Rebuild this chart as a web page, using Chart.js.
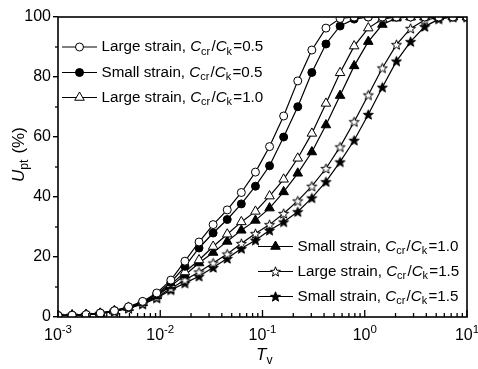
<!DOCTYPE html>
<html>
<head>
<meta charset="utf-8">
<script src="https://cdn.jsdelivr.net/npm/chart.js@4/dist/chart.umd.min.js"></script>
<style>
  html, body { margin: 0; padding: 0; background: #fff; }
  #wrap { width: 478px; height: 369px; }
</style>
</head>
<body>
<div id="wrap"><canvas id="cv"></canvas></div>
<script>
// time factor Tv (log spaced points)
const tv = [0.001, 0.001374, 0.001887, 0.002593, 0.003562, 0.004894, 0.006723, 0.009237,
  0.01269, 0.01743, 0.02395, 0.0329, 0.0452, 0.0621, 0.0853, 0.1172, 0.161, 0.2212,
  0.3039, 0.4175, 0.5736, 0.788, 1.083, 1.487, 2.043, 2.807, 3.857, 5.298, 7.279, 10];

// Upt (%)
const large05 = [0.5, 0.6, 0.8, 1.3, 2.1, 3.4, 5.2, 8.0, 12.3, 18.6, 25.0, 30.8, 35.7, 41.5, 48.3,
  56.8, 67.0, 78.7, 89.0, 96.3, 99.5, 100, 100, 100, 100, 100, 100, 100, 100, 100];
const small05 = [0.5, 0.6, 0.8, 1.3, 2.1, 3.3, 5.0, 7.6, 11.5, 16.9, 23.0, 28.0, 32.5, 37.7, 43.6,
  50.4, 60.0, 70.1, 81.5, 91.0, 97.0, 99.3, 100, 100, 100, 100, 100, 100, 100, 100];
const large10 = [0.5, 0.6, 0.8, 1.2, 2.0, 3.2, 4.8, 7.3, 10.8, 15.0, 19.0, 23.5, 27.6, 31.7, 35.2,
  40.3, 45.9, 52.9, 61.2, 71.2, 81.4, 90.3, 96.3, 99.3, 100, 100, 100, 100, 100, 100];
const small10 = [0.5, 0.6, 0.8, 1.2, 2.0, 3.1, 4.7, 7.0, 10.3, 14.0, 18.0, 21.5, 25.2, 28.9, 32.2,
  36.3, 41.7, 47.9, 55.0, 64.0, 73.8, 83.7, 91.8, 97.5, 99.6, 100, 100, 100, 100, 100];
const large15 = [0.5, 0.6, 0.8, 1.2, 1.9, 3.0, 4.5, 6.6, 9.5, 12.3, 15.0, 18.0, 21.0, 24.5, 27.8,
  30.8, 34.5, 38.7, 43.6, 49.5, 56.7, 65.1, 74.0, 83.0, 90.8, 96.2, 99.0, 99.8, 100, 100];
const small15 = [0.5, 0.6, 0.8, 1.2, 1.9, 2.9, 4.3, 6.3, 9.0, 11.3, 13.6, 16.5, 19.5, 22.8, 25.6,
  28.9, 31.7, 35.1, 39.7, 45.1, 51.7, 58.9, 67.5, 76.6, 85.3, 91.8, 96.8, 99.3, 100, 100];

const strains = ["Large", "Small", "Large", "Small", "Large", "Small"];
const ratios = ["0.5", "0.5", "1.0", "1.0", "1.5", "1.5"];
const yTicks = [0, 20, 40, 60, 80, 100];
const xDecades = [-3, -2, -1, 0, 1];

const FONT = '"Liberation Sans", Arial, sans-serif';

function starImg(filled) {
  const c = document.createElement("canvas");
  c.width = 13; c.height = 13;
  const g = c.getContext("2d");
  g.beginPath();
  for (let i = 0; i < 10; i++) {
    const r = i % 2 ? 2.2 : 5.2;
    const a = -Math.PI / 2 + i * Math.PI / 5;
    g.lineTo(6.5 + r * Math.cos(a), 7 + r * Math.sin(a));
  }
  g.closePath();
  g.fillStyle = filled ? "#000" : "#fff";
  g.fill();
  g.lineWidth = 1;
  g.strokeStyle = "#000";
  g.stroke();
  return c;
}

const series = [large05, small05, large10, small10, large15, small15];
const styles = [
  { pointStyle: "circle", fill: "#fff", radius: 4 },
  { pointStyle: "circle", fill: "#000", radius: 4 },
  { pointStyle: "triangle", fill: "#fff", radius: 5.5 },
  { pointStyle: "triangle", fill: "#000", radius: 5.5 },
  { pointStyle: starImg(false), fill: "#fff", radius: 5 },
  { pointStyle: starImg(true), fill: "#000", radius: 5 }
];

// draws text made of plain / italic / sub / sup parts, returns end x
function drawRich(ctx, parts, x, y, size) {
  ctx.textBaseline = "middle";
  ctx.textAlign = "left";
  for (const p of parts) {
    const small = p.sub || p.sup;
    const fs = small ? size * 0.72 : size;
    ctx.font = (p.it ? "italic " : "") + fs + "px " + FONT;
    const dy = p.sub ? size * 0.32 : (p.sup ? -size * 0.38 : 0);
    ctx.fillText(p.t, x, y + dy);
    x += ctx.measureText(p.t).width + (p.sub ? 1.2 : 0);
  }
  return x;
}

function labelParts(i) {
  return [
    { t: strains[i] + " strain, " },
    { t: "C", it: true }, { t: "cr", sub: true },
    { t: "/" },
    { t: "C", it: true }, { t: "k", sub: true },
    { t: "=" + ratios[i] }
  ];
}

function drawMarker(ctx, i, x, y) {
  const s = styles[i];
  if (typeof s.pointStyle !== "string") {
    ctx.drawImage(s.pointStyle, x - s.pointStyle.width / 2, y - s.pointStyle.height / 2);
    return;
  }
  ctx.fillStyle = s.fill;
  ctx.strokeStyle = "#000";
  ctx.lineWidth = 1;
  Chart.helpers.drawPoint(ctx, { pointStyle: s.pointStyle, radius: s.radius, rotation: 0, borderWidth: 1 }, x, y);
}

const decor = {
  id: "decor",
  afterDraw(chart) {
    const ctx = chart.ctx;
    const a = chart.chartArea;
    const xs = chart.scales.x, ys = chart.scales.y;
    ctx.save();
    ctx.strokeStyle = "#000";
    ctx.fillStyle = "#000";

    // frame
    ctx.lineWidth = 1.6;
    ctx.strokeRect(a.left, a.top, a.right - a.left, a.bottom - a.top);

    // x ticks (inward) and labels
    ctx.lineWidth = 1.3;
    for (const d of xDecades) {
      for (let m = 1; m <= 9; m++) {
        if (d === 1 && m > 1) break;
        const px = xs.getPixelForValue(m * Math.pow(10, d));
        const len = m === 1 ? 7 : 4;
        ctx.beginPath();
        ctx.moveTo(px, a.bottom);
        ctx.lineTo(px, a.bottom - len);
        ctx.stroke();
      }
      const px = xs.getPixelForValue(Math.pow(10, d));
      ctx.font = "16px " + FONT;
      const w10 = ctx.measureText("10").width;
      ctx.font = (16 * 0.72) + "px " + FONT;
      const we = ctx.measureText(String(d)).width;
      const x0 = px - (w10 + we) / 2;
      drawRich(ctx, [{ t: "10" }, { t: String(d), sup: true }], x0, 336, 16);
    }

    // y minor ticks (outward)
    for (let v = 10; v < 100; v += 20) {
      const py = ys.getPixelForValue(v);
      ctx.beginPath();
      ctx.moveTo(a.left, py);
      ctx.lineTo(a.left - 3, py);
      ctx.stroke();
    }

    // axis titles
    drawRich(ctx, [{ t: "T", it: true }, { t: "v", sub: true }], 256, 355, 17);
    ctx.save();
    ctx.translate(19, 182);
    ctx.rotate(-Math.PI / 2);
    drawRich(ctx, [{ t: "U", it: true }, { t: "pt", sub: true }, { t: " (%)" }], 0, 0, 17);
    ctx.restore();

    // legends
    const rowsTop = [47, 72.5, 97.5];
    const rowsBot = [246.5, 271.5, 296.5];
    for (let i = 0; i < 6; i++) {
      const top = i < 3;
      const y = top ? rowsTop[i] : rowsBot[i - 3];
      const x0 = top ? 62 : 258;
      ctx.strokeStyle = "#000";
      ctx.lineWidth = 1.2;
      ctx.beginPath();
      ctx.moveTo(x0, y);
      ctx.lineTo(x0 + 35, y);
      ctx.stroke();
      drawMarker(ctx, i, x0 + 17.5, y);
      ctx.fillStyle = "#000";
      drawRich(ctx, labelParts(i), x0 + 39.5, y, 15.2);
    }
    ctx.restore();
  }
};

new Chart(document.getElementById("cv"), {
  type: "line",
  data: {
    datasets: series.map((vals, i) => ({
      label: strains[i] + " strain, Ccr/Ck=" + ratios[i],
      data: tv.map((t, k) => ({ x: t, y: vals[k] })),
      borderColor: "#000",
      borderWidth: 1.2,
      backgroundColor: styles[i].fill,
      pointBackgroundColor: styles[i].fill,
      pointBorderColor: "#000",
      pointBorderWidth: 1,
      pointStyle: styles[i].pointStyle,
      pointRadius: styles[i].radius,
      tension: 0
    }))
  },
  options: {
    responsive: true,
    maintainAspectRatio: false,
    animation: false,
    events: [],
    layout: { padding: { top: 17, right: 11, left: 0, bottom: 0 } },
    plugins: { legend: { display: false }, tooltip: { enabled: false } },
    scales: {
      x: {
        type: "logarithmic",
        min: 0.001,
        max: 10,
        grid: { display: false },
        border: { display: false },
        ticks: { display: false },
        afterFit: s => { s.height = 52; }
      },
      y: {
        min: 0,
        max: 100,
        afterBuildTicks: s => { s.ticks = yTicks.map(v => ({ value: v })); },
        grid: { drawOnChartArea: false, drawTicks: true, tickLength: 5, color: "#000", lineWidth: 1.4 },
        border: { display: false },
        ticks: { color: "#000", padding: 2, font: { family: FONT, size: 16 } },
        afterFit: s => { s.width = 58; }
      }
    }
  },
  plugins: [decor]
});
</script>
</body>
</html>
